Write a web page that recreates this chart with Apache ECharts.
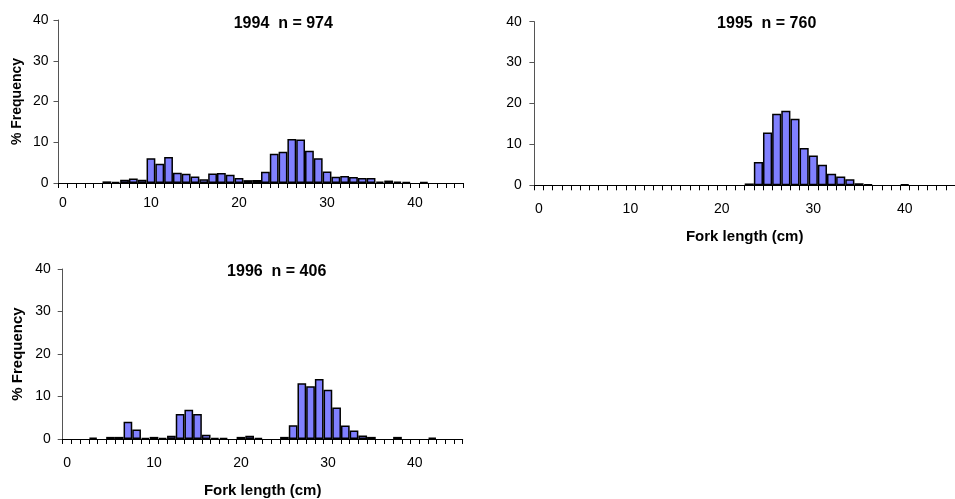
<!DOCTYPE html>
<html><head><meta charset="utf-8">
<script src="https://cdn.jsdelivr.net/npm/echarts@6/dist/echarts.min.js"></script>
<style>html,body{margin:0;padding:0;background:#fff}#c{width:955px;height:499px}</style>
</head><body><div id="c"></div>
<script>
// Fork length classes (cm)
var lengthCategories = ['0','1','2','3','4','5','6','7','8','9','10','11','12','13','14','15','16','17','18','19','20','21','22','23','24','25','26','27','28','29','30','31','32','33','34','35','36','37','38','39','40','41','42','43','44','45'];
// % frequency per 1-cm class
var freq1994 = [null,null,null,null,null,0.4,0.3,0.8,1.1,0.8,6.1,4.75,6.4,2.5,2.3,1.6,0.9,2.35,2.45,2.0,1.2,0.7,0.75,2.75,7.2,7.65,10.8,10.65,7.9,6.1,2.85,1.55,1.7,1.5,1.2,1.2,0.35,0.6,0.35,0.25,null,0.25,null,null,null,null];
var freq1995 = [null,null,null,null,null,null,null,null,null,null,null,null,null,null,null,null,null,null,null,null,null,null,null,0.45,5.7,12.9,17.5,18.2,16.3,9.1,7.3,5.0,2.85,2.15,1.45,0.5,0.25,null,null,null,0.25,null,null,null,null,null];
var freq1996 = [null,null,null,0.3,null,0.5,0.5,4.05,2.25,0.25,0.5,0.25,0.75,5.9,6.9,5.9,1.0,0.25,0.25,null,0.5,0.75,0.25,null,null,0.5,3.25,13.1,12.4,14.1,11.6,7.4,3.2,2.0,0.8,0.5,null,null,0.5,null,null,null,0.3,null,null,null];
var panelTitles = ['1994  n = 974','1995  n = 760','1996  n = 406'];
var yTicks = {min:0, max:40, interval:10};

var FONT = 'Liberation Sans, Arial, sans-serif';
var grids = [
  {left:58.5, top:20, width:405, height:163},
  {left:534.4, top:21.7, width:429.6, height:163.6},
  {left:62.7, top:269, width:400, height:171.3}
];
var titlePos = [[278.3,11],[761.7,11],[271.7,259]];
var xLabelMargin = [13,17,17];
var yLabelMargin = [10,12.5,12];
var xNames = ['', 'Fork length (cm)', 'Fork length (cm)'];
var yNames = ['% Frequency', '', '% Frequency'];
var yNameSize = [14,14,15];
var yNameGap = [34,35,37];
var series = [freq1994, freq1995, freq1996];

var option = {
  animation:false,
  backgroundColor:'#fff',
  title: panelTitles.map(function(t,i){return {text:t,left:titlePos[i][0],top:titlePos[i][1],textAlign:'center',
    textStyle:{fontFamily:FONT,fontWeight:'bold',fontSize:16,color:'#000'}};}),
  grid: grids,
  xAxis: grids.map(function(g,i){return {
    type:'category', gridIndex:i, data:lengthCategories, boundaryGap:true,
    name:xNames[i], nameLocation:'middle', nameGap:44,
    nameTextStyle:{fontFamily:FONT,fontWeight:'bold',fontSize:15,color:'#000'},
    axisLine:{lineStyle:{color:'#000',width:1}},
    axisTick:{show:true,interval:0,length:5,lineStyle:{color:'#000'}},
    axisLabel:{interval:9,margin:xLabelMargin[i],fontFamily:FONT,fontSize:14,color:'#000'},
    splitLine:{show:false}
  };}),
  yAxis: grids.map(function(g,i){return {
    type:'value', gridIndex:i, min:yTicks.min, max:yTicks.max, interval:yTicks.interval,
    name:yNames[i], nameLocation:'middle', nameGap:yNameGap[i],
    nameTextStyle:{fontFamily:FONT,fontWeight:'bold',fontSize:yNameSize[i],color:'#000'},
    axisLine:{show:true,lineStyle:{color:'#555',width:1}},
    axisTick:{show:true,length:5,lineStyle:{color:'#555'}},
    axisLabel:{margin:yLabelMargin[i],fontFamily:FONT,fontSize:14,color:'#000'},
    splitLine:{show:false}
  };}),
  series: series.map(function(d,i){return {
    type:'bar', xAxisIndex:i, yAxisIndex:i, data:d, barWidth:'100%', barCategoryGap:'0%',
    itemStyle:{color:'#8080FF',borderColor:'#000',borderWidth:1.5}
  };})
};
var chart = echarts.init(document.getElementById('c'),null,{renderer:'canvas'});
chart.setOption(option);
</script></body></html>
